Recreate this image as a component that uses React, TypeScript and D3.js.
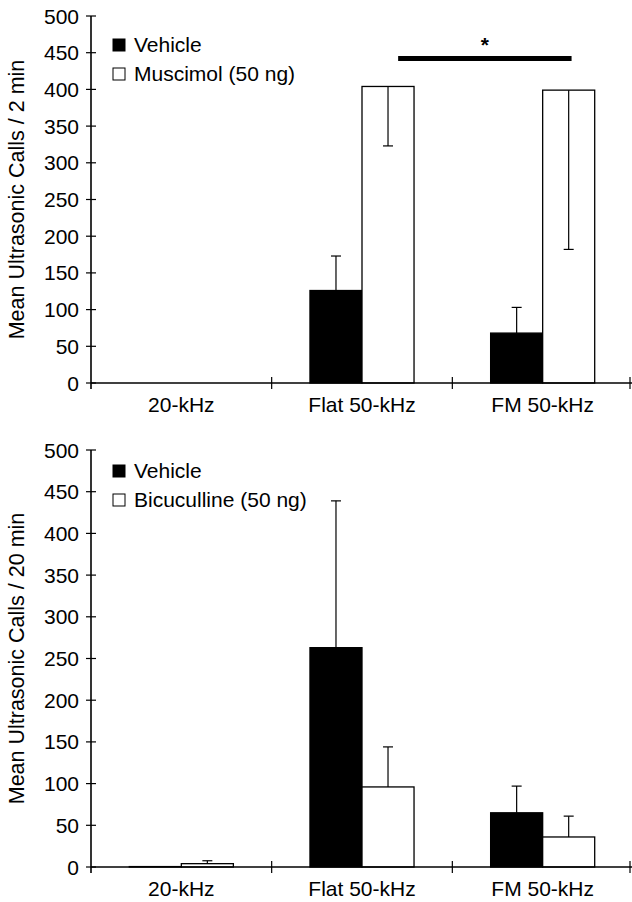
import { useRef, useEffect } from 'react';
import * as d3 from 'd3';

const W = 632;
const H = 902;
const FONT = 'Arial, "Liberation Sans", sans-serif';
const FS = 21;

const categories = ['20-kHz', 'Flat 50-kHz', 'FM 50-kHz'];
const yTicks = [0, 50, 100, 150, 200, 250, 300, 350, 400, 450, 500];

// top panel: 2 min
const topLegend = ['Vehicle', 'Muscimol (50 ng)'];
const topVehicle = [0, 126, 68];
const topVehicleErr = [0, 47, 35];
const topMuscimol = [0, 404, 399];
const topMuscimolErr = [0, 81, 217];

// bottom panel: 20 min
const bottomLegend = ['Vehicle', 'Bicuculline (50 ng)'];
const bottomVehicle = [0.5, 263, 65];
const bottomVehicleErr = [0, 176, 32];
const bottomBicuculline = [4, 96, 36];
const bottomBicucullineErr = [3.5, 48, 25];

const panels = [
  {
    top: 16, bottom: 383, label: 'Mean Ultrasonic Calls / 2 min', legend: topLegend, legendTop: 39,
    series: [
      { values: topVehicle, errs: topVehicleErr, fill: '#000', dir: 1 },
      { values: topMuscimol, errs: topMuscimolErr, fill: '#fff', dir: -1 },
    ],
    sig: true,
  },
  {
    top: 450, bottom: 867, label: 'Mean Ultrasonic Calls / 20 min', legend: bottomLegend, legendTop: 465,
    series: [
      { values: bottomVehicle, errs: bottomVehicleErr, fill: '#000', dir: 1 },
      { values: bottomBicuculline, errs: bottomBicucullineErr, fill: '#fff', dir: 1 },
    ],
    sig: false,
  },
];

export default function App() {
  const svgRef = useRef(null);

  useEffect(() => {
    if (!svgRef.current) return;
    const svg = d3.select(svgRef.current);
    svg.selectAll('*').remove();
    svg.append('rect').attr('width', W).attr('height', H).attr('fill', '#fff');

    const x0 = d3.scaleBand().domain(categories).range([91, 633]).padding(0);
    const bw = x0.bandwidth() * 0.288;
    const cap = 5;

    panels.forEach(p => {
      const y = d3.scaleLinear().domain([0, 500]).range([p.bottom, p.top]);
      const g = svg.append('g');
      const axX = x0.range()[0];

      // y axis
      g.append('line').attr('x1', axX).attr('x2', axX).attr('y1', y(500)).attr('y2', y(0) + 6)
        .attr('stroke', '#000').attr('stroke-width', 1.6);
      yTicks.forEach(t => {
        g.append('line').attr('x1', axX - 5).attr('x2', axX + 5).attr('y1', y(t)).attr('y2', y(t))
          .attr('stroke', '#000').attr('stroke-width', 1.2);
        g.append('text').attr('x', 79).attr('y', y(t)).attr('dy', '0.36em')
          .attr('text-anchor', 'end').style('font-family', FONT).style('font-size', FS + 'px').text(t);
      });

      g.append('text')
        .attr('transform', `translate(24,${(y(0) + y(500)) / 2}) rotate(-90)`)
        .attr('text-anchor', 'middle').style('font-family', FONT).style('font-size', '21.5px')
        .text(p.label);

      // bars
      p.series.forEach((s, si) => {
        categories.forEach((c, ci) => {
          const v = s.values[ci];
          if (v <= 0) return;
          const cx = x0(c) + x0.bandwidth() / 2;
          const bx = si === 0 ? cx - bw : cx;
          g.append('rect').attr('x', bx).attr('y', y(v)).attr('width', bw).attr('height', y(0) - y(v))
            .attr('fill', s.fill).attr('stroke', '#000').attr('stroke-width', 1.3);
          const e = s.errs[ci];
          if (e > 0) {
            const mx = bx + bw / 2;
            const ye = y(v + s.dir * e);
            g.append('line').attr('x1', mx).attr('x2', mx).attr('y1', y(v)).attr('y2', ye)
              .attr('stroke', '#000').attr('stroke-width', 1.2);
            g.append('line').attr('x1', mx - cap).attr('x2', mx + cap).attr('y1', ye).attr('y2', ye)
              .attr('stroke', '#000').attr('stroke-width', 1.2);
          }
        });
      });

      // x axis
      g.append('line').attr('x1', axX).attr('x2', x0.range()[1]).attr('y1', y(0)).attr('y2', y(0))
        .attr('stroke', '#000').attr('stroke-width', 1.6);
      categories.forEach(c => {
        const bx = Math.min(x0(c) + x0.bandwidth(), W - 2);
        g.append('line').attr('x1', bx).attr('x2', bx).attr('y1', y(0) - 6).attr('y2', y(0) + 6)
          .attr('stroke', '#000').attr('stroke-width', 1.2);
        g.append('text').attr('x', x0(c) + x0.bandwidth() / 2).attr('y', y(0) + 29)
          .attr('text-anchor', 'middle').style('font-family', FONT).style('font-size', FS + 'px').text(c);
      });

      // legend
      p.legend.forEach((name, i) => {
        const ly = p.legendTop + i * 29;
        g.append('rect').attr('x', 113).attr('y', ly).attr('width', 12).attr('height', 12)
          .attr('fill', p.series[i].fill).attr('stroke', '#000').attr('stroke-width', 1);
        g.append('text').attr('x', 134).attr('y', ly + 13)
          .style('font-family', FONT).style('font-size', FS + 'px').text(name);
      });

      if (p.sig) {
        const sx1 = x0('Flat 50-kHz') + x0.bandwidth() * 0.7;
        const sx2 = x0('FM 50-kHz') + x0.bandwidth() * 0.66;
        g.append('line').attr('x1', sx1).attr('x2', sx2).attr('y1', 58.5).attr('y2', 58.5)
          .attr('stroke', '#000').attr('stroke-width', 5);
        g.append('text').attr('x', (sx1 + sx2) / 2).attr('y', 52).attr('text-anchor', 'middle')
          .style('font-family', FONT).style('font-size', '21px').style('font-weight', 'bold').text('*');
      }
    });
  }, []);

  return (
    <svg ref={svgRef} width={W} height={H}
      style={{ position: 'absolute', left: 0, top: 0, display: 'block' }} />
  );
}
